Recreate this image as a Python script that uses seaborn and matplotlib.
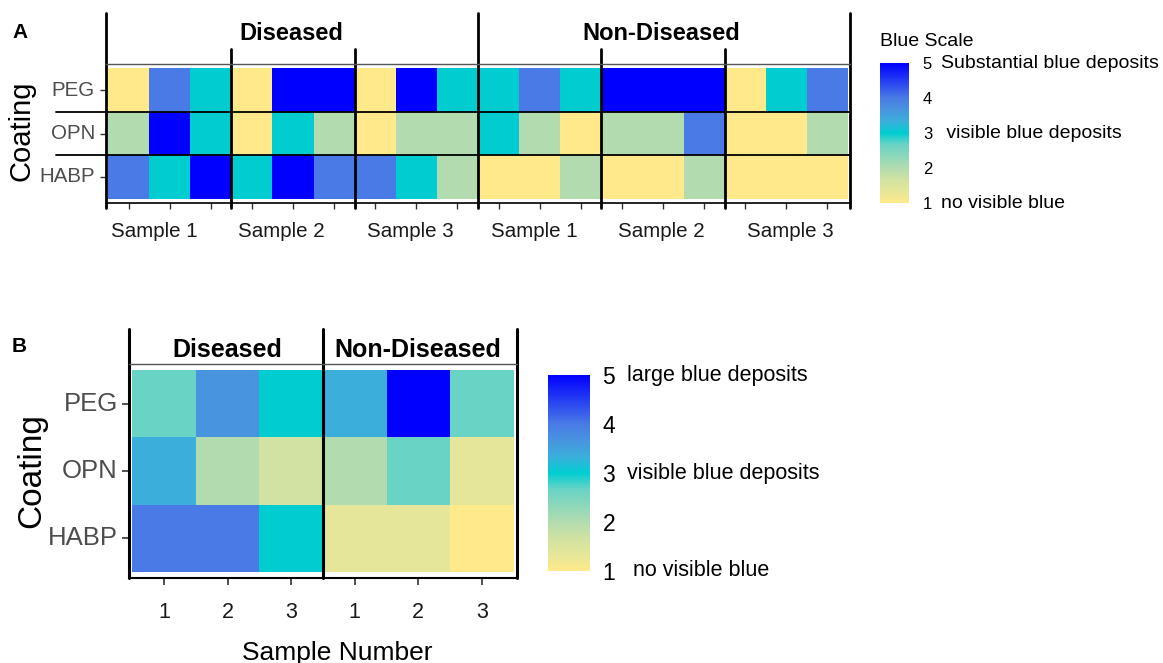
import numpy as np
import pandas as pd
import matplotlib
matplotlib.use('Agg')
import matplotlib.pyplot as plt
import matplotlib.transforms as mtransforms
from matplotlib.colors import LinearSegmentedColormap
import seaborn as sns

coatings = ['PEG', 'OPN', 'HABP']
groups = ['Diseased', 'Non-Diseased']
samples_a = ['Sample 1', 'Sample 2', 'Sample 3']
samples_b = ['1', '2', '3']

# panel A: three replicate scores per sample (D S1..S3, ND S1..S3)
peg_a = [1, 4, 3, 1, 5, 5, 1, 5, 3, 3, 4, 3, 5, 5, 5, 1, 3, 4]
opn_a = [2, 5, 3, 1, 3, 2, 1, 2, 2, 3, 2, 1, 2, 2, 4, 1, 1, 2]
habp_a = [4, 3, 5, 3, 5, 4, 4, 3, 2, 1, 1, 2, 1, 1, 2, 1, 1, 1]

# panel B: score per sample
peg_b = [2.67, 3.67, 3.0, 3.33, 5.0, 2.67]
opn_b = [3.33, 2.0, 1.67, 2.0, 2.67, 1.33]
habp_b = [4.0, 4.0, 3.0, 1.33, 1.33, 1.0]

scale_ticks = [1, 2, 3, 4, 5]
scale_a_text = {5: 'Substantial blue deposits', 3: ' visible blue deposits', 1: 'no visible blue'}
scale_b_text = {5: 'large blue deposits', 3: 'visible blue deposits', 1: ' no visible blue'}

# colour stops picked from the legend / tiles
stop_vals = [1.0, 1.33, 1.67, 2.0, 2.67, 3.0, 3.33, 3.67, 4.0, 5.0]
stop_cols = ['#FFE98A', '#E5E699', '#D0E2A2', '#B2DCB0', '#68D3C5',
             '#00CED1', '#3BAFDB', '#4894DF', '#4A7BE6', '#0000FF']
cmap = LinearSegmentedColormap.from_list(
    'blue_scale', [((v - 1) / 4, c) for v, c in zip(stop_vals, stop_cols)])

sns.set_style('white')
plt.rcParams['font.family'] = ['Liberation Sans', 'DejaVu Sans']
plt.rcParams['text.color'] = 'black'
plt.rcParams['axes.labelcolor'] = 'black'

W, H = 1163, 663
fig = plt.figure(figsize=(W / 100, H / 100), dpi=100)


def box(left, top, right, bottom):
    return [left / W, 1 - bottom / H, (right - left) / W, (bottom - top) / H]


axA = fig.add_axes(box(106, 64, 850, 203))
caxA = fig.add_axes(box(880, 63, 909, 203))
axB = fig.add_axes(box(129, 364, 517, 578))
caxB = fig.add_axes(box(548, 375, 590, 571))

# ---------------- panel A ----------------
dfA = pd.DataFrame([peg_a, opn_a, habp_a], index=coatings)
sns.heatmap(dfA, ax=axA, cmap=cmap, vmin=1, vmax=5, cbar_ax=caxA,
            cbar_kws={'ticks': scale_ticks})
nA = dfA.shape[1]
padx, pady = 0.05, 0.1
axA.set_xlim(-padx, nA + padx)
axA.set_ylim(3 + pady, -pady)
# small ticks on every replicate column, sample labels sit slightly left of group centre
axA.set_xticks(np.arange(nA) + 0.5, minor=True)
sample_label_pos = [1.13, 4.22, 7.36, 10.38, 13.47, 16.61]
axA.set_xticks(sample_label_pos)
axA.set_xticklabels(samples_a * 2, rotation=0, fontsize=14.8, color='#1A1A1A')
axA.set_yticks(np.arange(3) + 0.5)
axA.set_yticklabels(coatings, rotation=0, fontsize=14.8, color='#4D4D4D')
axA.tick_params(axis='x', which='major', bottom=True, length=0, pad=14)
axA.tick_params(axis='x', which='minor', bottom=True, length=4, width=1, color='#333333')
axA.tick_params(axis='y', left=True, length=4, width=1, color='#333333', pad=4)
axA.set_xlabel('')
axA.set_ylabel('Coating', fontsize=21)
axA.yaxis.set_label_coords(-0.095, 0.52)
for s in ['left', 'right']:
    axA.spines[s].set_visible(False)
axA.spines['top'].set_visible(True)
axA.spines['top'].set_color('#555555')
axA.spines['top'].set_linewidth(1)
axA.spines['bottom'].set_visible(True)
axA.spines['bottom'].set_color('black')
axA.spines['bottom'].set_linewidth(1.2)

for x in [-padx, 9, nA + padx]:
    axA.axvline(x, ymin=-0.036, ymax=1.37, color='black', lw=2, clip_on=False)
for x in [3, 6, 12, 15]:
    axA.axvline(x, ymin=-0.036, ymax=1.11, color='black', lw=2, clip_on=False)
for y in [1, 2]:
    axA.axhline(y, xmin=-0.067, xmax=1, color='black', lw=1.3, clip_on=False)

trA = mtransforms.blended_transform_factory(axA.transData, axA.transAxes)
for i, g in enumerate(groups):
    axA.text(4.45 + 9 * i, 1.223, g, transform=trA, ha='center', va='center',
             fontsize=17, fontweight='bold')

cbA = axA.collections[0].colorbar
cbA.outline.set_visible(False)
cbA.set_ticks(scale_ticks)
cbA.set_ticklabels([str(t) for t in scale_ticks])
caxA.tick_params(axis='y', left=True, right=True, direction='in', length=4,
                 width=1, color='white', labelsize=12, pad=10, labelcolor='black')
tcA = mtransforms.blended_transform_factory(caxA.transAxes, caxA.transData)
for v, t in scale_a_text.items():
    caxA.text(2.1, v, t, transform=tcA, va='center', fontsize=14)
caxA.text(0, 1.157, 'Blue Scale', transform=caxA.transAxes, ha='left',
          va='center', fontsize=14)

# ---------------- panel B ----------------
dfB = pd.DataFrame([peg_b, opn_b, habp_b], index=coatings)
sns.heatmap(dfB, ax=axB, cmap=cmap, vmin=1, vmax=5, cbar_ax=caxB,
            cbar_kws={'ticks': scale_ticks})
nB = dfB.shape[1]
pbx, pby = 0.055, 0.09
axB.set_xlim(-pbx, nB + pbx)
axB.set_ylim(3 + pby, -pby)
axB.set_xticks(np.arange(nB) + 0.5)
axB.set_xticklabels(samples_b * 2, rotation=0, fontsize=15.5, color='#1A1A1A')
axB.set_yticks(np.arange(3) + 0.5)
axB.set_yticklabels(coatings, rotation=0, fontsize=18.5, color='#4D4D4D')
axB.tick_params(axis='x', bottom=True, length=5, width=1.2, color='#333333', pad=12)
axB.tick_params(axis='y', left=True, length=5, width=1.2, color='#333333', pad=3)
axB.set_xlabel('Sample Number', fontsize=19)
axB.xaxis.set_label_coords(0.536, -0.295)
axB.set_ylabel('Coating', fontsize=24)
axB.yaxis.set_label_coords(-0.21, 0.5)
for s in ['left', 'right']:
    axB.spines[s].set_visible(False)
axB.spines['top'].set_visible(True)
axB.spines['top'].set_color('#555555')
axB.spines['top'].set_linewidth(1)
axB.spines['bottom'].set_visible(True)
axB.spines['bottom'].set_color('black')
axB.spines['bottom'].set_linewidth(1.5)

for x in [-pbx, 3, nB + pbx]:
    axB.axvline(x, ymin=0, ymax=1.164, color='black', lw=2.2, clip_on=False)

trB = mtransforms.blended_transform_factory(axB.transData, axB.transAxes)
for i, g in enumerate(groups):
    axB.text(1.5 + 3 * i, 1.065, g, transform=trB, ha='center', va='center',
             fontsize=18, fontweight='bold')

cbB = axB.collections[0].colorbar
cbB.outline.set_visible(False)
cbB.set_ticks(scale_ticks)
cbB.set_ticklabels([str(t) for t in scale_ticks])
caxB.tick_params(axis='y', left=True, right=True, direction='in', length=5,
                 width=1, color='white', labelsize=16.5, pad=9, labelcolor='black')
tcB = mtransforms.blended_transform_factory(caxB.transAxes, caxB.transData)
for v, t in scale_b_text.items():
    caxB.text(1.88, v, t, transform=tcB, va='center', fontsize=15.5)

fig.text(12 / W, 1 - 32 / H, 'A', fontsize=15, fontweight='bold', va='center')
fig.text(12 / W, 1 - 347 / H, 'B', fontsize=15, fontweight='bold', va='center')

fig.savefig('out.png', dpi=100, facecolor='white')
